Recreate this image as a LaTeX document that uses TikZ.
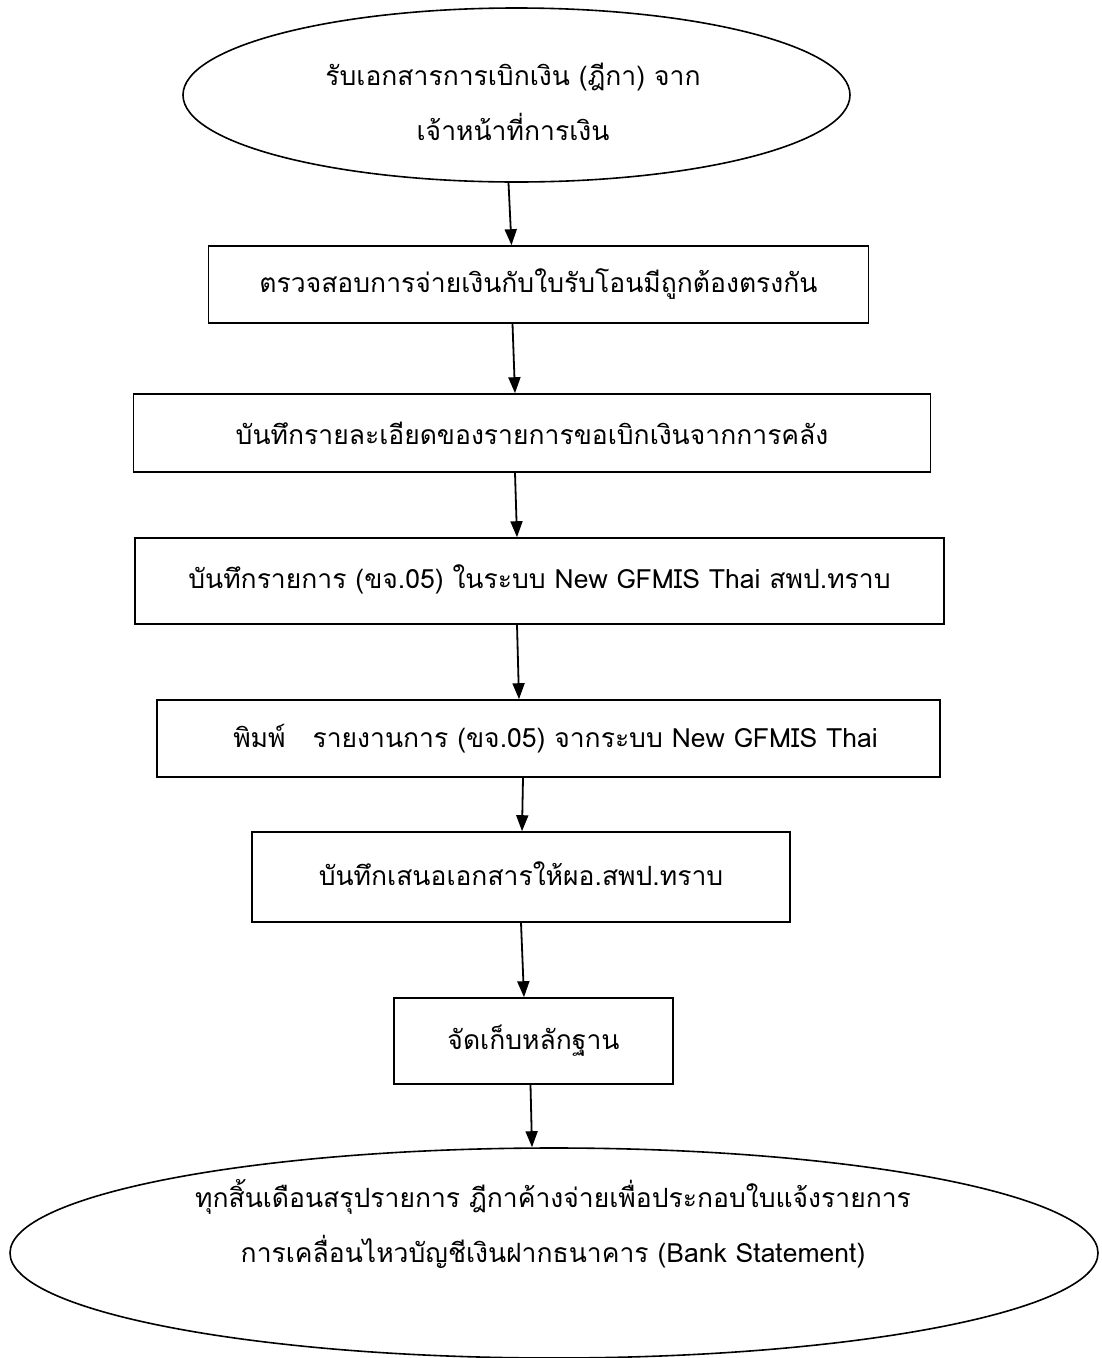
\documentclass[tikz,border=0pt]{standalone}
\usepackage{fontspec}
\newfontfamily\thaifont[Script=Thai]{Loma}
\usetikzlibrary{shapes.geometric,arrows.meta}
\begin{document}
\begin{tikzpicture}[x=1pt,y=-1pt,
  every node/.style={font=\thaifont\fontsize{26.5}{55}\selectfont},
  stepbox/.style={draw,line width=1.6pt,rectangle,inner sep=0pt},
  endcap/.style={draw,line width=1.6pt,ellipse,inner sep=0pt},
  caption/.style={align=center,inner sep=0pt},
  arr/.style={line width=1.8pt,-{Triangle[length=16pt,width=12pt]}}]
\useasboundingbox (0,0) rectangle (1102,1358);
\node[endcap,minimum width=667pt,minimum height=174pt] (e1) at (516.5,95) {};
\node[caption] (t1) at (513,102) {รับเอกสารการเบิกเงิน (ฎีกา) จาก\\ เจ้าหน้าที่การเงิน};
\node[stepbox,minimum width=660pt,minimum height=77pt] (b1) at (538.5,284.5)
  {ตรวจสอบการจ่ายเงินกับใบรับโอนมีถูกต้องตรงกัน};
\node[stepbox,minimum width=797pt,minimum height=78pt] (b2) at (532,433)
  {บันทึกรายละเอียดของรายการขอเบิกเงินจากการคลัง};
\node[stepbox,minimum width=809pt,minimum height=86pt] (b3) at (539.5,581)
  {\raisebox{9pt}{บันทึกรายการ (ขจ.05) ในระบบ New GFMIS Thai สพป.ทราบ}};
\node[stepbox,minimum width=783pt,minimum height=77pt] (b4) at (548.5,738.5)
  {\raisebox{5pt}{\hspace*{14pt}พิมพ์\hspace{18pt} รายงานการ (ขจ.05) จากระบบ New GFMIS Thai}};
\node[stepbox,minimum width=538pt,minimum height=90pt] (b5) at (521,877)
  {\raisebox{7pt}{บันทึกเสนอเอกสารให้ผอ.สพป.ทราบ}};
\node[stepbox,minimum width=279pt,minimum height=86pt] (b6) at (533.5,1041)
  {\raisebox{3pt}{จัดเก็บหลักฐาน}};
\node[endcap,minimum width=1088pt,minimum height=210pt] (e2) at (554,1253) {};
\node[caption] (t2) at (553,1224) {ทุกสิ้นเดือนสรุปรายการ ฎีกาค้างจ่ายเพื่อประกอบใบแจ้งรายการ\\ การเคลื่อนไหวบัญชีเงินฝากธนาคาร (Bank Statement)};
\draw[arr] ([xshift=-8pt]e1.south) -- ([xshift=-27pt]b1.north);
\draw[arr] ([xshift=-26pt]b1.south) -- ([xshift=-17pt]b2.north);
\draw[arr] ([xshift=-17pt]b2.south) -- ([xshift=-22.5pt]b3.north);
\draw[arr] ([xshift=-22.5pt]b3.south) -- ([xshift=-29.5pt]b4.north);
\draw[arr] ([xshift=-25.5pt]b4.south) -- ([xshift=1pt]b5.north);
\draw[arr] ([xshift=0pt]b5.south) -- ([xshift=-9.5pt]b6.north);
\draw[arr] ([xshift=-3pt]b6.south) -- ([xshift=-22pt]e2.north);
\end{tikzpicture}
\end{document}
